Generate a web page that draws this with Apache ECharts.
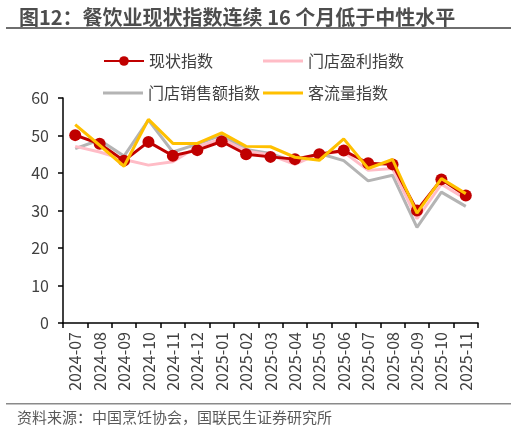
<!DOCTYPE html>
<html style="height: 100%">
<head>
    <meta charset="utf-8">
    <script type="text/javascript" src="https://cdn.jsdelivr.net/npm/echarts@6/dist/echarts.min.js"></script>
</head>
<body style="height: 100%; margin: 0; background: #fff">
<div id="container" style="width: 516px; height: 432px"></div>
<script type="text/javascript">
    var months = ['2024-07', '2024-08', '2024-09', '2024-10', '2024-11', '2024-12',
        '2025-01', '2025-02', '2025-03', '2025-04', '2025-05', '2025-06',
        '2025-07', '2025-08', '2025-09', '2025-10', '2025-11'];
    // 现状指数
    var statusIdx = [50.1, 47.8, 43.3, 48.3, 44.6, 46.1, 48.4, 45.0, 44.3, 43.7, 45.0, 46.0, 42.6, 42.3, 30.0, 38.3, 34.0];
    // 门店盈利指数
    var profitIdx = [47.1, 45.6, 43.6, 42.1, 43.0, 47.0, 49.1, 45.9, 44.8, 42.3, 45.2, 45.6, 40.7, 41.2, 27.8, 37.0, 33.1];
    // 门店销售额指数
    var salesIdx = [46.5, 48.8, 44.5, 54.1, 45.6, 47.7, 50.1, 46.3, 45.2, 42.9, 45.2, 43.3, 37.9, 39.4, 25.5, 34.9, 31.1];
    // 客流量指数
    var trafficIdx = [52.9, 47.4, 41.8, 54.3, 47.9, 47.9, 50.7, 47.1, 47.0, 44.2, 43.4, 49.1, 41.2, 43.6, 29.3, 38.5, 34.5];

    var FONT = '"Noto Sans CJK SC", "Liberation Sans", sans-serif';
    var txt = '#404040';

    var myChart = echarts.init(document.getElementById('container'));

    // 每个图例单独定位；只有现状指数带圆点
    function legendAt(name, left, top, plain) {
        var lg = {
            data: [name], left: left, top: top, padding: 0,
            itemWidth: 40, itemHeight: 12,
            textStyle: {fontFamily: FONT, fontSize: 16, color: txt}
        };
        if (plain) {
            lg.icon = 'rect';
            lg.itemHeight = 3;
        }
        return lg;
    }

    var option = {
        animation: false,
        title: {
            text: '图12：餐饮业现状指数连续 16 个月低于中性水平',
            left: 14, top: 2,
            textStyle: {fontFamily: FONT, fontSize: 20, fontWeight: 'bold', color: '#4d4d4d'}
        },
        graphic: [
            {type: 'rect', shape: {x: 6, y: 27, width: 505, height: 2}, style: {fill: '#6e6e6e'}},
            {type: 'rect', shape: {x: 6, y: 403, width: 505, height: 1.5}, style: {fill: '#8a8a8a'}},
            {type: 'text', left: 17, top: 410,
                style: {text: '资料来源：中国烹饪协会，国联民生证券研究所', font: '15px ' + FONT, fill: '#595959'}}
        ],
        legend: [
            legendAt('现状指数', 103, 53, false),
            legendAt('门店盈利指数', 263, 53, true),
            legendAt('门店销售额指数', 103, 85, true),
            legendAt('客流量指数', 263, 85, true)
        ],
        grid: {left: 63, right: 38, top: 98, bottom: 109},
        xAxis: {
            type: 'category',
            data: months,
            boundaryGap: true,
            axisLine: {lineStyle: {color: '#000', width: 1.5}},
            axisTick: {show: true, length: 5, lineStyle: {color: '#000', width: 1.5}},
            axisLabel: {rotate: 90, interval: 0, margin: 9, fontFamily: FONT, fontSize: 16, color: txt}
        },
        yAxis: {
            type: 'value',
            min: 0, max: 60, interval: 10,
            splitLine: {show: false},
            axisLine: {show: true, lineStyle: {color: '#000', width: 1.5}},
            axisTick: {show: true, length: 5, lineStyle: {color: '#000', width: 1.5}},
            axisLabel: {margin: 14, fontFamily: FONT, fontSize: 16, color: txt}
        },
        series: [
            {
                name: '门店销售额指数', type: 'line', data: salesIdx, z: 1,
                symbol: 'none', color: '#b4b4b4', lineStyle: {width: 3, color: '#b4b4b4'}
            },
            {
                name: '门店盈利指数', type: 'line', data: profitIdx, z: 2,
                symbol: 'none', color: '#ffbcc6', lineStyle: {width: 3, color: '#ffbcc6'}
            },
            {
                name: '现状指数', type: 'line', data: statusIdx, z: 3,
                symbol: 'circle', symbolSize: 12, color: '#c00000',
                itemStyle: {color: '#c00000'}, lineStyle: {width: 3, color: '#c00000'}
            },
            {
                name: '客流量指数', type: 'line', data: trafficIdx, z: 4,
                symbol: 'none', color: '#ffc000', lineStyle: {width: 3, color: '#ffc000'}
            }
        ]
    };
    myChart.setOption(option);
</script>
</body>
</html>
